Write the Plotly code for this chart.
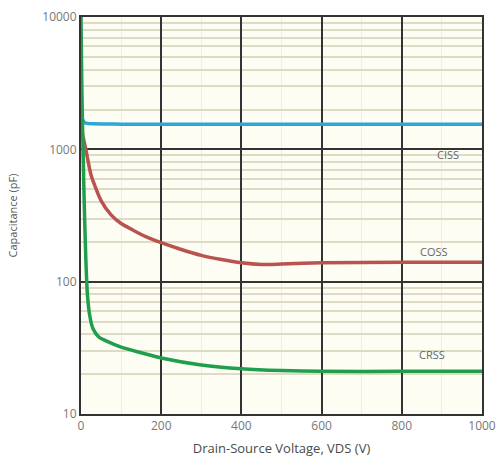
import math
import plotly.graph_objects as go

# Data
v_iss = [0, 3, 8, 15, 30, 60, 100, 200, 400, 600, 800, 1000]
c_iss = [1750, 1700, 1600, 1570, 1560, 1555, 1550, 1550, 1548, 1548, 1548, 1548]

v_oss = [0, 5, 12, 25, 50, 75, 100, 130, 160, 200, 250, 300, 350, 400, 450, 500, 600, 800, 1000]
c_oss = [1500, 1250, 1000, 640, 410, 320, 275, 245, 220, 197, 175, 158, 147, 139, 135, 136, 139, 140, 140]

v_rss = [0, 2, 5, 8, 12, 16, 22, 30, 45, 60, 100, 150, 200, 300, 400, 500, 600, 800, 1000]
c_rss = [10000, 3000, 1000, 400, 150, 80, 55, 44, 38, 36, 32, 29, 26.5, 23.5, 22, 21.3, 21, 21, 21]

series_names = ["CISS", "COSS", "CRSS"]
label_x = [915, 880, 875]
label_y = [920, 168, 28]

x_ticks = [0, 200, 400, 600, 800, 1000]
y_ticks = [10, 100, 1000, 10000]

colors = ["#2ba8d8", "#b8534f", "#1f9f4c"]

fig = go.Figure()
for xs, ys, c in zip([v_iss, v_oss, v_rss], [c_iss, c_oss, c_rss], colors):
    fig.add_trace(go.Scatter(x=xs, y=ys, mode="lines",
                             line=dict(color=c, width=3.5, shape="spline", smoothing=0.6),
                             showlegend=False, hoverinfo="skip"))

for name, lx, ly in zip(series_names, label_x, label_y):
    fig.add_annotation(x=lx, y=math.log10(ly), xref="x", yref="y", text=name, showarrow=False,
                       font=dict(size=11, color="#666", family="Open Sans"))

fig.update_layout(
    template="none",
    width=500, height=469,
    margin=dict(l=81, r=18, t=17, b=55, autoexpand=False),
    paper_bgcolor="white",
    plot_bgcolor="#fdfdf4",
    font=dict(family="Open Sans", color="#666"),
    xaxis=dict(
        range=[0, 1000], tickvals=x_ticks, ticks="", showgrid=True, automargin=False,
        gridcolor="#333", gridwidth=2,
        minor=dict(dtick=100, showgrid=True, gridcolor="#efeee6", gridwidth=1),
        showline=True, linecolor="#333", linewidth=2, mirror=True,
        tickfont=dict(size=12, color="#777"),
        title=dict(text="Drain-Source Voltage, VDS (V)", font=dict(size=13, color="#4a4a4a"), standoff=10),
        zeroline=False,
    ),
    yaxis=dict(
        type="log", range=[1, 4], tickvals=y_ticks, ticktext=[str(t) for t in y_ticks],
        ticks="", showgrid=True, gridcolor="#333", gridwidth=2, automargin=False,
        minor=dict(dtick="D1", showgrid=True, gridcolor="#dedac4", gridwidth=1.5),
        showline=True, linecolor="#333", linewidth=2, mirror=True,
        tickfont=dict(size=12, color="#777"),
        title=dict(text="Capacitance (pF)", font=dict(size=11, color="#555"), standoff=22),
        zeroline=False,
    ),
)

fig.write_html("out.html")
